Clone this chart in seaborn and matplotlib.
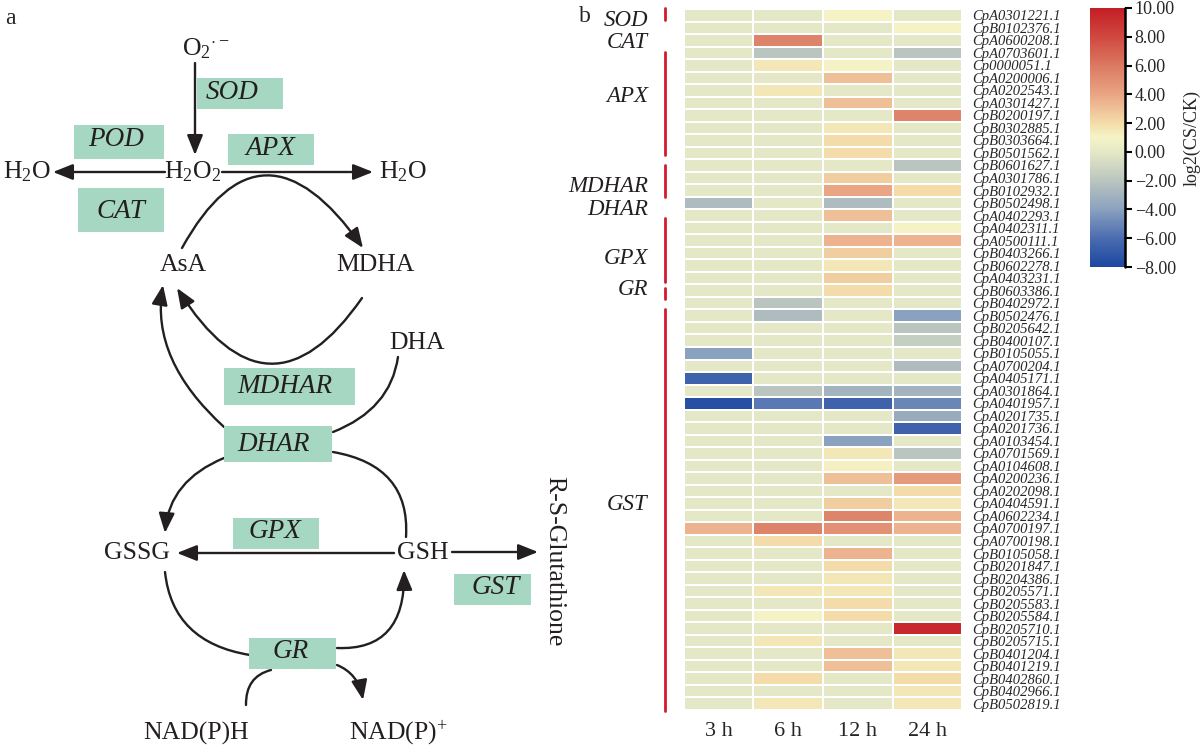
import numpy as np
import pandas as pd
import matplotlib
matplotlib.use('Agg')
import matplotlib.pyplot as plt
import seaborn as sns
from matplotlib.colors import LinearSegmentedColormap
from matplotlib.patches import Rectangle, FancyArrowPatch
from matplotlib.path import Path
from matplotlib.transforms import blended_transform_factory

sns.set_style('white')
plt.rcParams['font.family'] = ['Liberation Serif', 'DejaVu Serif']
plt.rcParams['mathtext.fontset'] = 'custom'
plt.rcParams['mathtext.rm'] = 'Liberation Serif'
plt.rcParams['mathtext.it'] = 'Liberation Serif:italic'
plt.rcParams['axes.unicode_minus'] = True

# ---- heatmap data ----
times = ['3 h', '6 h', '12 h', '24 h']

genes = ['CpA0301221.1', 'CpB0102376.1', 'CpA0600208.1', 'CpA0703601.1',
         'Cp0000051.1', 'CpA0200006.1', 'CpA0202543.1', 'CpA0301427.1',
         'CpB0200197.1', 'CpB0302885.1', 'CpB0303664.1', 'CpB0501562.1',
         'CpB0601627.1', 'CpA0301786.1', 'CpB0102932.1', 'CpB0502498.1',
         'CpA0402293.1', 'CpA0402311.1', 'CpA0500111.1', 'CpB0403266.1',
         'CpB0602278.1', 'CpA0403231.1', 'CpB0603386.1', 'CpB0402972.1',
         'CpB0502476.1', 'CpB0205642.1', 'CpB0400107.1', 'CpB0105055.1',
         'CpA0700204.1', 'CpA0405171.1', 'CpA0301864.1', 'CpA0401957.1',
         'CpA0201735.1', 'CpA0201736.1', 'CpA0103454.1', 'CpA0701569.1',
         'CpA0104608.1', 'CpA0200236.1', 'CpA0202098.1', 'CpA0404591.1',
         'CpA0602234.1', 'CpA0700197.1', 'CpA0700198.1', 'CpB0105058.1',
         'CpB0201847.1', 'CpB0204386.1', 'CpB0205571.1', 'CpB0205583.1',
         'CpB0205584.1', 'CpB0205710.1', 'CpB0205715.1', 'CpB0401204.1',
         'CpB0401219.1', 'CpB0402860.1', 'CpB0402966.1', 'CpB0502819.1']

v3h = [0, 0, 0, 0, 0, 0, 0, 0,
       0, 0, 0, 0, 0, 0, 0, -2.5,
       0, 0, 0, 0, 0, 0, 0, 0,
       0, 0, 0, -4, 0, -6.5, 0, -7.5,
       0, 0, 0, 0, 0, 0, 0, 0,
       0, 3.5, 0, 0, 0, 0, 0, 0,
       0, 0, 0, 0, 0, 0, 0, 0]
v6h = [0, 0, 5.5, -2, 1.5, 0, 1.5, 0,
       0, 0, 0, 0, 0, 0, 0, 0,
       0, 0, 0, 0, 0, 0, 0, -2,
       -2.5, 0, 0, 0, 0, 0, -2, -5.5,
       0, 0, 0, 0, 0, 0, 0, 0,
       0, 5.5, 2, 0, 0, 0, 1.5, 0,
       1, 0, 1.5, 0, 0, 2, 0, 1.5]
v12h = [1, 0, 0, 0, 1, 3, 0, 3,
        0, 1.5, 2, 2, 0, 2.5, 4, -2.5,
        3, 0, 3.5, 2.5, 1.5, 2.5, 2, 0,
        0, 0, 0, 0, 0, 0, -3, -6.5,
        0, 0, -4, 1.5, 1.2, 3, 0, 2.5,
        5.5, 5, 0, 3.5, 2, 1.5, 1.5, 2,
        2, 0, 0, 3, 3, 0, 0, 0]
v24h = [0, 1, 0, -2, 0, 0, 0, 0,
        5.5, 0, 0, 0, -2, 0, 2, 0,
        0, 1, 3.5, 0, 0, 0, 0, 0,
        -4, -2, -1.5, 0, -2.5, 0, -3, -5,
        -3.5, -6.5, 0, -2, 0, 4.5, 2, 1.5,
        3.5, 3.5, 0, 0, 0, 0, 0, 0,
        0, 9.5, 0, 1.5, 1.5, 2, 1.5, 1.5]

group_names = ['SOD', 'CAT', 'APX', 'MDHAR', 'DHAR', 'GPX', 'GR', 'GST']
group_label_rows = [0.88, 2.7, 7.0, 14.2, 16.05, 19.9, 22.4, 39.6]
# red bars next to the groups (row units); CAT and DHAR have none
bar_spans = [(-0.08, 0.88), (3.43, 11.66), (12.46, 15.0),
             (16.7, 21.8), (22.3, 23.2), (24.0, 56.1)]

df = pd.DataFrame({times[0]: v3h, times[1]: v6h, times[2]: v12h, times[3]: v24h},
                  index=genes)

cb_vals = [-8, -6, -4, -2, 0, 1, 2, 4, 6, 8, 10]
cb_cols = ['#1c47a0', '#4a6cb0', '#8ca2bf', '#bac5bf', '#e4e8c6', '#f5f3c6',
           '#f4dcaa', '#eaa585', '#db7a62', '#d04840', '#c41e24']
cmap = LinearSegmentedColormap.from_list(
    'cs', [((v + 8) / 18, c) for v, c in zip(cb_vals, cb_cols)])

W, H = 1200, 753
fig = plt.figure(figsize=(12, 7.53), dpi=100)

# ---- panel a : pathway diagram (pixel coordinates) ----
dax = fig.add_axes([0, 0, 1, 1], zorder=-1)
dax.set_xlim(0, W)
dax.set_ylim(H, 0)
dax.axis('off')

ink = '#231f20'
box_col = '#a6d7c3'
fs = 18.5

boxes = [('SOD', 197, 78, 283, 109, 232, 92),
         ('POD', 74, 125, 164, 159, 116, 139),
         ('CAT', 78, 188, 164, 232, 121, 211),
         ('APX', 228, 134, 314, 165, 270, 148),
         ('MDHAR', 224, 368, 355, 405, 285, 386),
         ('DHAR', 224, 426, 332, 462, 274, 444),
         ('GPX', 233, 518, 319, 549, 275, 532),
         ('GST', 454, 574, 531, 605, 496, 588),
         ('GR', 249, 638, 336, 669, 291, 652)]
for name, x0, y0, x1, y1, tx, ty in boxes:
    dax.add_patch(Rectangle((x0, y0), x1 - x0, y1 - y0, facecolor=box_col,
                            edgecolor='none', zorder=2))
    dax.text(tx, ty, name, fontsize=19.5, style='italic', ha='center',
             va='center', color=ink, zorder=3)

labels = [(r'O$_2$$^{\cdot-}$', 182, 49, 'left'),
          (r'H$_2$O', 27, 172, 'center'),
          (r'H$_2$O$_2$', 193, 172, 'center'),
          (r'H$_2$O', 403, 172, 'center'),
          ('AsA', 183, 265, 'center'),
          ('MDHA', 375, 265, 'center'),
          ('DHA', 417, 343, 'center'),
          ('GSSG', 137, 553, 'center'),
          ('GSH', 423, 553, 'center'),
          ('NAD(P)H', 196, 733, 'center'),
          (r'NAD(P)$^{+}$', 398, 733, 'center')]
for t, x, y, ha in labels:
    dax.text(x, y, t, fontsize=fs, ha=ha, va='center', color=ink, zorder=3)

dax.text(554, 561, 'R-S-Glutathione', fontsize=fs, rotation=-90,
         ha='center', va='center', color=ink, zorder=3)


def draw(p0, p1, mid=None, head=True):
    p0 = np.array(p0, float)
    p1 = np.array(p1, float)
    if mid is None:
        path = Path([p0, p1], [Path.MOVETO, Path.LINETO])
    else:
        c = 2 * np.array(mid, float) - (p0 + p1) / 2
        path = Path([p0, c, p1], [Path.MOVETO, Path.CURVE3, Path.CURVE3])
    style = '-|>,head_length=1.0,head_width=0.4' if head else '-'
    dax.add_patch(FancyArrowPatch(path=path, arrowstyle=style,
                                  mutation_scale=12, lw=1.7, color=ink,
                                  zorder=1))


# straight arrows
draw((195, 63), (195, 155))
draw((165, 172), (53, 172))
draw((222, 172), (373, 172))
draw((394, 553), (177, 553))
draw((452, 552), (538, 552))
# curved arrows
draw((182, 248), (363, 248), mid=(267, 176))
draw((362, 298), (177, 288), mid=(269, 363))
draw((224, 427), (163, 285), mid=(172, 358))
draw((398, 357), (333, 432), mid=(378, 402), head=False)
draw((224, 458), (165, 533), mid=(182, 488))
draw((333, 452), (406, 537), mid=(390, 480), head=False)
draw((165, 572), (250, 655), mid=(190, 628), head=False)
draw((337, 648), (404, 570), mid=(388, 630))
draw((246, 705), (271, 670), mid=(252, 682), head=False)
draw((337, 665), (363, 700), mid=(354, 678))

fig.text(10 / W, 1 - 18 / H, 'a', fontsize=17, ha='center', va='center')
fig.text(585 / W, 1 - 17 / H, 'b', fontsize=17, ha='center', va='center')

# ---- panel b : heatmap ----
hax = fig.add_axes([684 / W, 1 - 710 / H, 278 / W, 701 / H])
cax = fig.add_axes([1090 / W, 1 - 267 / H, 35 / W, 259 / H])

sns.heatmap(df, ax=hax, cmap=cmap, vmin=-8, vmax=10, cbar_ax=cax,
            linewidths=1.3, linecolor='white',
            xticklabels=times, yticklabels=genes)

hax.yaxis.tick_right()
hax.tick_params(axis='both', length=0)
hax.tick_params(axis='y', pad=7)
hax.tick_params(axis='x', pad=9)
for lab in hax.get_yticklabels():
    lab.set_fontstyle('italic')
    lab.set_fontsize(10.5)
    lab.set_rotation(0)
for lab in hax.get_xticklabels():
    lab.set_fontsize(16)
    lab.set_rotation(0)

tr = blended_transform_factory(hax.transAxes, hax.transData)
for a, b in bar_spans:
    hax.plot([-0.068, -0.068], [a, b], transform=tr, clip_on=False,
             color='#d41a2a', lw=2)
for name, r in zip(group_names, group_label_rows):
    hax.text(-0.13, r, name, transform=tr, ha='right', va='center',
             style='italic', fontsize=16.5, color=ink)

# colorbar
cbar = hax.collections[0].colorbar
cbar.set_ticks([10, 8, 6, 4, 2, 0, -2, -4, -6, -8])
cbar.set_ticklabels([f'{v:.2f}'.replace('-', '\u2212') for v in
                     [10, 8, 6, 4, 2, 0, -2, -4, -6, -8]])
cbar.outline.set_visible(False)
cax.tick_params(axis='y', length=5, width=1.5, color='black', pad=2,
                labelsize=13, direction='out')
cax.plot([1, 1], [0, 1], transform=cax.transAxes, color='black', lw=1.8,
         clip_on=False)
cax.set_ylabel('log2(CS/CK)', fontsize=13, labelpad=5)

plt.savefig('out.png', dpi=100)
